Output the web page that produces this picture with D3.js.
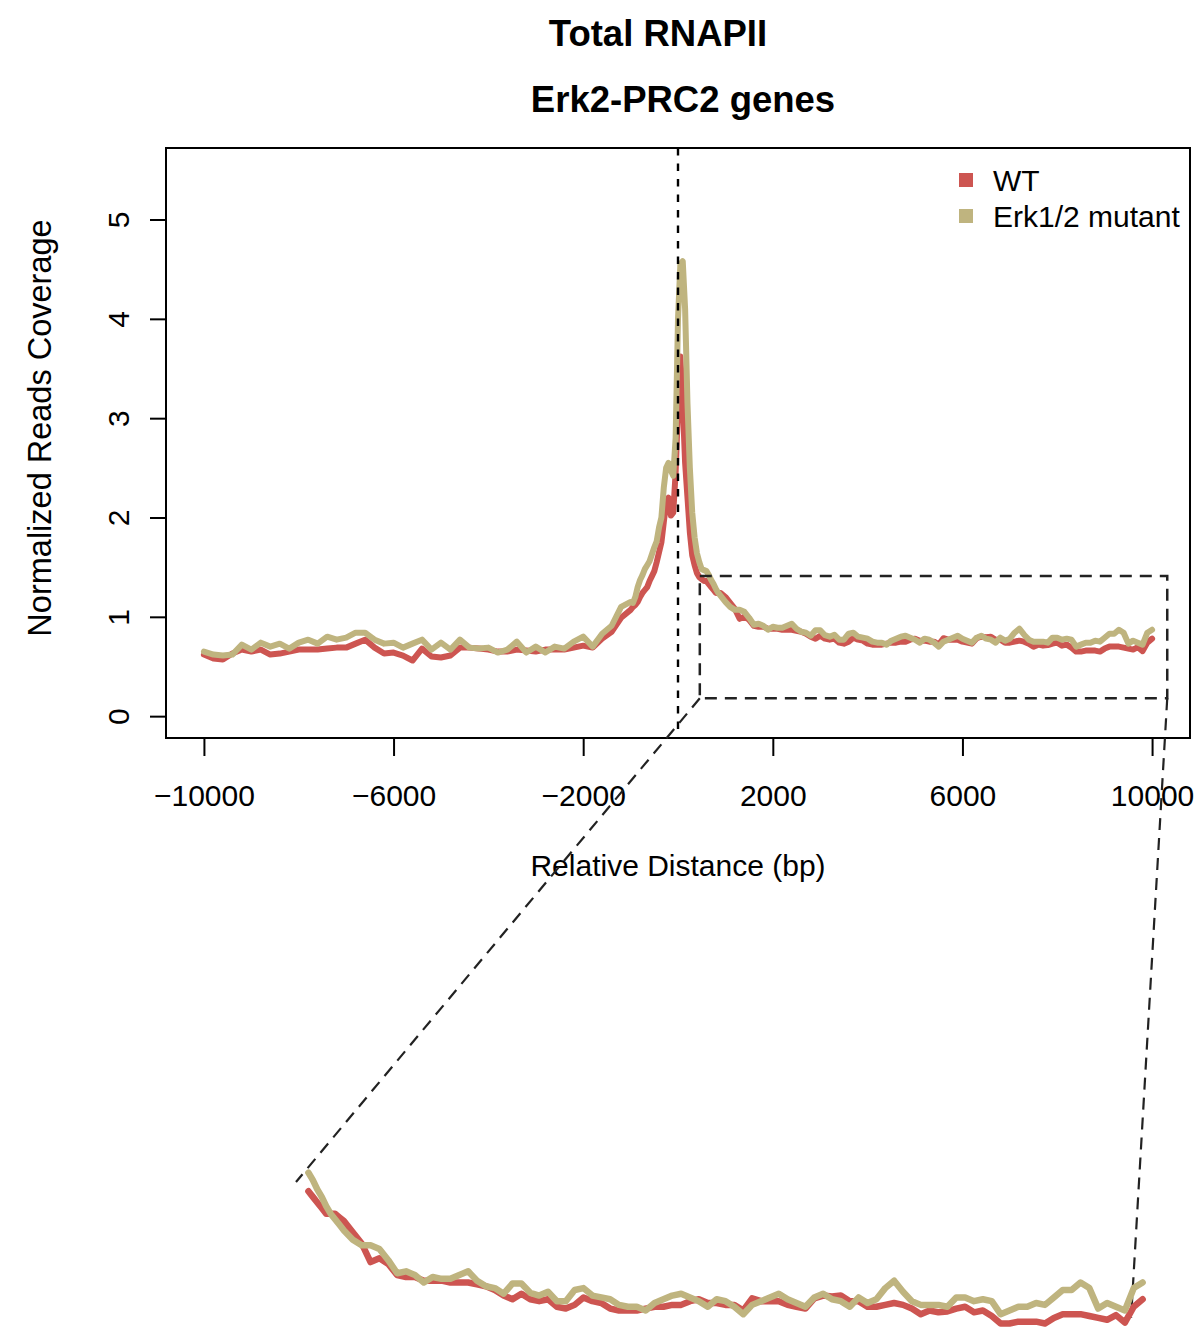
<!DOCTYPE html>
<html>
<head>
<meta charset="utf-8">
<script src="https://cdn.jsdelivr.net/npm/d3@7"></script>
<style>
  body { margin: 0; background: #fff; }
  svg { display: block; font-family: "Liberation Sans", Arial, Helvetica, sans-serif; }
</style>
</head>
<body>
<div id="chart"></div>
<script>
// positions (bp) of the profile bins: coarse upstream, fine around the TSS, medium downstream
const positions = [
    ...d3.range(-10000, -999, 200),
    ...d3.range(-950, 951, 50),
    ...d3.range(1000, 10001, 100)
];

// WT coverage
const wtUpstream = [
    0.62, 0.58, 0.57, 0.63, 0.67, 0.65, 0.67, 0.62, 0.63, 0.65,
    0.67, 0.67, 0.67, 0.68, 0.69, 0.69, 0.73, 0.77, 0.69, 0.63,
    0.64, 0.61, 0.56, 0.68, 0.60, 0.59, 0.61, 0.69, 0.69, 0.68,
    0.67, 0.65, 0.65, 0.67, 0.66, 0.65, 0.67, 0.67, 0.67, 0.69,
    0.71, 0.69, 0.78, 0.85, 0.99, 1.07
];
const wtCenter = [
    1.10, 1.12, 1.15, 1.20, 1.24, 1.27, 1.30, 1.36, 1.41, 1.46,
    1.55, 1.65, 1.75, 1.95, 2.15, 2.20, 2.02, 2.05, 2.45, 3.10,
    3.62, 3.15, 2.55, 2.20, 1.85, 1.62, 1.52, 1.44, 1.40, 1.38,
    1.36, 1.36, 1.33, 1.30, 1.27, 1.24, 1.24, 1.24, 1.22
];
const wtDownstream = [
    1.20, 1.14, 1.08, 0.98, 1.00, 0.97, 0.91, 0.90, 0.90, 0.88,
    0.88, 0.88, 0.87, 0.87, 0.87, 0.86, 0.85, 0.83, 0.80, 0.78,
    0.81, 0.78, 0.77, 0.78, 0.74, 0.73, 0.75, 0.79, 0.77, 0.76,
    0.73, 0.72, 0.72, 0.72, 0.73, 0.74, 0.74, 0.75, 0.75, 0.77,
    0.78, 0.76, 0.76, 0.75, 0.75, 0.72, 0.785, 0.77, 0.77, 0.77,
    0.75, 0.74, 0.73, 0.785, 0.80, 0.795, 0.80, 0.77, 0.77, 0.74,
    0.74, 0.75, 0.76, 0.75, 0.73, 0.70, 0.72, 0.71, 0.715, 0.73,
    0.74, 0.71, 0.72, 0.69, 0.65, 0.65, 0.66, 0.66, 0.66, 0.65,
    0.68, 0.70, 0.70, 0.70, 0.69, 0.68, 0.67, 0.695, 0.655, 0.74,
    0.78
];

// Erk1/2 mutant coverage
const mutUpstream = [
    0.65, 0.62, 0.61, 0.62, 0.72, 0.67, 0.74, 0.70, 0.73, 0.68,
    0.74, 0.77, 0.73, 0.80, 0.77, 0.79, 0.84, 0.84, 0.77, 0.73,
    0.74, 0.69, 0.73, 0.77, 0.67, 0.74, 0.67, 0.77, 0.69, 0.68,
    0.69, 0.64, 0.67, 0.75, 0.64, 0.70, 0.64, 0.70, 0.68, 0.75,
    0.80, 0.70, 0.83, 0.91, 1.10, 1.15
];
const mutCenter = [
    1.14, 1.20, 1.30, 1.37, 1.42, 1.48, 1.52, 1.56, 1.63, 1.70,
    1.76, 1.90, 2.00, 2.30, 2.50, 2.55, 2.47, 2.42, 2.80, 4.00,
    4.55, 4.58, 4.10, 3.15, 2.50, 2.05, 1.80, 1.64, 1.55, 1.48,
    1.47, 1.46, 1.42, 1.37, 1.33, 1.28, 1.24, 1.21, 1.18
];
const mutDownstream = [
    1.15, 1.10, 1.07, 1.07, 1.05, 0.99, 0.92, 0.93, 0.91, 0.87,
    0.90, 0.89, 0.89, 0.91, 0.93, 0.88, 0.85, 0.84, 0.81, 0.865,
    0.865, 0.815, 0.80, 0.82, 0.77, 0.77, 0.83, 0.84, 0.80, 0.79,
    0.78, 0.75, 0.74, 0.74, 0.72, 0.76, 0.78, 0.80, 0.81, 0.79,
    0.77, 0.74, 0.78, 0.77, 0.74, 0.70, 0.75, 0.77, 0.79, 0.81,
    0.78, 0.76, 0.74, 0.79, 0.81, 0.78, 0.77, 0.74, 0.79, 0.76,
    0.78, 0.84, 0.88, 0.82, 0.77, 0.75, 0.75, 0.75, 0.74, 0.79,
    0.79, 0.77, 0.78, 0.77, 0.70, 0.72, 0.74, 0.74, 0.76, 0.75,
    0.79, 0.83, 0.83, 0.87, 0.84, 0.73, 0.76, 0.74, 0.72, 0.84,
    0.87
];

const seriesNames = ['WT', 'Erk1/2 mutant'];
const seriesColors = ['#cd5551', '#bfb47f'];
const xTicks = [-10000, -6000, -2000, 2000, 6000, 10000];
const yTicks = [0, 1, 2, 3, 4, 5];
const titleMain = 'Total RNAPII';
const titleSub = 'Erk2-PRC2 genes';
const xLabel = 'Relative Distance (bp)';
const yLabel = 'Normalized Reads Coverage';

// zoomed window (data units) and where the zoom starts drawing
const zoomBox = { x0: 460, x1: 10320, y0: 0.18, y1: 1.41 };
const zoomStart = 600;
const zoomRightAnchor = [9870, 0.68];

const series = [
    { name: seriesNames[0], color: seriesColors[0], values: [...wtUpstream, ...wtCenter, ...wtDownstream] },
    { name: seriesNames[1], color: seriesColors[1], values: [...mutUpstream, ...mutCenter, ...mutDownstream] }
].map(s => ({ ...s, points: positions.map((p, i) => ({ pos: p, val: s.values[i] })) }));

const width = 1198, height = 1342;
const plot = { left: 166, right: 1190, top: 148, bottom: 738 };
const fontSize = 30;

const svg = d3.select('#chart').append('svg')
    .attr('width', width)
    .attr('height', height);

// R-style 4% padding on the ranges
const x = d3.scaleLinear().domain([-10800, 10800]).range([plot.left, plot.right]);
const y = d3.scaleLinear().domain([-0.22, 5.72]).range([plot.bottom, plot.top]);

// titles
svg.append('text')
    .attr('x', 658).attr('y', 46)
    .attr('text-anchor', 'middle')
    .attr('font-size', 36.5).attr('font-weight', 'bold')
    .text(titleMain);
svg.append('text')
    .attr('x', 683).attr('y', 112)
    .attr('text-anchor', 'middle')
    .attr('font-size', 36.5).attr('font-weight', 'bold')
    .text(titleSub);

// axes
const xAxis = svg.append('g')
    .attr('transform', `translate(0,${plot.bottom})`)
    .call(d3.axisBottom(x).tickValues(xTicks).tickSize(18).tickPadding(29).tickFormat(d3.format('d')));
const yAxis = svg.append('g')
    .attr('transform', `translate(${plot.left},0)`)
    .call(d3.axisLeft(y).tickValues(yTicks).tickSize(16).tickFormat(d3.format('d')));

[xAxis, yAxis].forEach(ax => {
    ax.select('.domain').remove();
    ax.selectAll('line').attr('stroke', '#000').attr('stroke-width', 2);
    ax.selectAll('text')
        .attr('font-size', fontSize)
        .attr('font-family', '"Liberation Sans", Arial, sans-serif')
        .attr('fill', '#000');
});
yAxis.selectAll('text')
    .attr('x', null).attr('dy', null)
    .attr('text-anchor', 'middle')
    .attr('transform', 'translate(-37,0) rotate(-90)');

svg.append('text')
    .attr('x', (plot.left + plot.right) / 2).attr('y', 876)
    .attr('text-anchor', 'middle')
    .attr('font-size', fontSize)
    .text(xLabel);
svg.append('text')
    .attr('transform', 'translate(51,428) rotate(-90)')
    .attr('text-anchor', 'middle')
    .attr('font-size', 32.5)
    .text(yLabel);

// box
svg.append('rect')
    .attr('x', plot.left).attr('y', plot.top)
    .attr('width', plot.right - plot.left).attr('height', plot.bottom - plot.top)
    .attr('fill', 'none').attr('stroke', '#000').attr('stroke-width', 2);

// profile lines
const line = d3.line().x(d => x(d.pos)).y(d => y(d.val));
svg.append('g').selectAll('path')
    .data(series)
    .join('path')
    .attr('d', d => line(d.points))
    .attr('fill', 'none')
    .attr('stroke', d => d.color)
    .attr('stroke-width', 6)
    .attr('stroke-linejoin', 'round')
    .attr('stroke-linecap', 'round');

// TSS marker
svg.append('line')
    .attr('x1', x(0)).attr('x2', x(0))
    .attr('y1', plot.top).attr('y2', plot.bottom)
    .attr('stroke', '#000').attr('stroke-width', 2.4)
    .attr('stroke-dasharray', '7.5,8');

// legend
const legend = svg.append('g').selectAll('g')
    .data(series)
    .join('g')
    .attr('transform', (d, i) => `translate(959,${180 + i * 36})`);
legend.append('rect')
    .attr('x', 0).attr('y', -7).attr('width', 14).attr('height', 14)
    .attr('fill', d => d.color);
legend.append('text')
    .attr('x', 34).attr('dy', '0.35em')
    .attr('font-size', fontSize)
    .text(d => d.name);

// zoom window in the main plot
const dash = '12,8';
svg.append('rect')
    .attr('x', x(zoomBox.x0)).attr('y', y(zoomBox.y1))
    .attr('width', x(zoomBox.x1) - x(zoomBox.x0))
    .attr('height', y(zoomBox.y0) - y(zoomBox.y1))
    .attr('fill', 'none').attr('stroke', '#222').attr('stroke-width', 2.5)
    .attr('stroke-dasharray', dash);

// magnified view below the plot
const ix = d3.scaleLinear().domain([zoomBox.x0, zoomBox.x1]).range([296, 1171]);
const iy = d3.scaleLinear().domain([zoomBox.y0, zoomBox.y1]).range([1411, 1182]);
const insetLine = d3.line().x(d => ix(d.pos)).y(d => iy(d.val));

svg.append('g').selectAll('line')
    .data([
        [[x(zoomBox.x0), y(zoomBox.y0)], [ix(zoomBox.x0), iy(zoomBox.y1)]],
        [[x(zoomBox.x1), y(zoomBox.y0)], [ix(zoomRightAnchor[0]), iy(zoomRightAnchor[1])]]
    ])
    .join('line')
    .attr('x1', d => d[0][0]).attr('y1', d => d[0][1])
    .attr('x2', d => d[1][0]).attr('y2', d => d[1][1])
    .attr('stroke', '#222').attr('stroke-width', 2.2)
    .attr('stroke-dasharray', dash);

svg.append('g').selectAll('path')
    .data(series)
    .join('path')
    .attr('d', d => insetLine(d.points.filter(p => p.pos >= zoomStart)))
    .attr('fill', 'none')
    .attr('stroke', d => d.color)
    .attr('stroke-width', 6.5)
    .attr('stroke-linejoin', 'round')
    .attr('stroke-linecap', 'round');
</script>
</body>
</html>
